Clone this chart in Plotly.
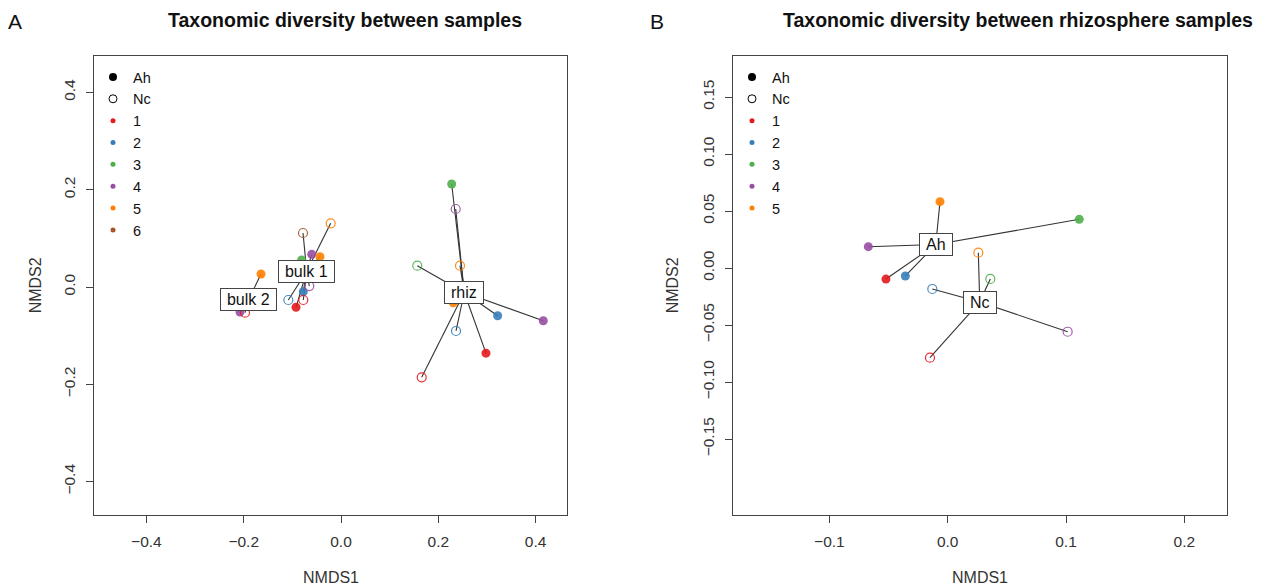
import plotly.graph_objects as go

# ---------------- data ----------------
SET1 = {1: "#E41A1C", 2: "#377EB8", 3: "#4DAF4A", 4: "#984EA3", 5: "#FF7F00", 6: "#A65628"}

# Panel A: all samples
a_group = ["rhiz"] * 10 + ["bulk 1"] * 10 + ["bulk 2"] * 3
a_plant = ["Ah", "Ah", "Ah", "Ah", "Ah", "Nc", "Nc", "Nc", "Nc", "Nc",
           "Nc", "Nc", "Ah", "Ah", "Ah", "Nc", "Ah", "Nc", "Nc", "Ah",
           "Ah", "Ah", "Nc"]
a_rep = [1, 2, 3, 4, 5, 1, 2, 3, 4, 5,
         5, 6, 3, 4, 5, 4, 2, 2, 1, 1,
         5, 4, 1]
a_x = [0.298, 0.322, 0.2275, 0.4158, 0.2308, 0.1659, 0.2364, 0.1568, 0.2358, 0.2446,
       -0.0212, -0.0781, -0.0808, -0.0602, -0.0432, -0.0652, -0.0775, -0.1083, -0.0775, -0.0925,
       -0.1644, -0.2076, -0.1973]
a_y = [-0.136, -0.059, 0.2117, -0.0693, -0.0323, -0.1856, -0.0904, 0.0438, 0.1603, 0.0438,
       0.1309, 0.111, 0.0555, 0.0672, 0.0623, 0.002, -0.0097, -0.0267, -0.0267, -0.0417,
       0.0267, -0.0514, -0.0528]

# Panel B: rhizosphere samples
b_group = ["Ah"] * 5 + ["Nc"] * 5
b_rep = [1, 2, 3, 4, 5, 1, 2, 3, 4, 5]
b_x = [-0.0522, -0.0358, 0.1112, -0.0671, -0.0065, -0.015, -0.013, 0.036, 0.1014, 0.0259]
b_y = [-0.0097, -0.0070, 0.0427, 0.0187, 0.0582, -0.0787, -0.0184, -0.0096, -0.0559, 0.0134]

a_xticks = [-0.4, -0.2, 0.0, 0.2, 0.4]
a_yticks = [-0.4, -0.2, 0.0, 0.2, 0.4]
b_xticks = [-0.1, 0.0, 0.1, 0.2]
b_yticks = [-0.15, -0.10, -0.05, 0.0, 0.05, 0.10, 0.15]

a_legend_reps = [1, 2, 3, 4, 5, 6]
b_legend_reps = [1, 2, 3, 4, 5]

# ---------------- layout geometry ----------------
W, H = 1265, 587
OFF = 8.0  # page body margin in the browser
FONT = "Liberation Sans, Arial, sans-serif"
TOP, BOT = 55.7, 515.0
A_L, A_R = 94.0, 567.0
B_L, B_R = 732.7, 1226.7


def px(v):
    return (v - OFF) / W


def py(v):
    return 1 - (v - OFF) / H


CHAR_W = {"A": 10.7, "h": 8.9, "N": 11.6, "c": 8.0, "b": 8.9, "u": 8.9, "l": 3.6,
          "k": 8.0, " ": 4.4, "1": 8.9, "2": 8.9, "r": 5.3, "i": 3.6, "z": 8.0}


def text_w(s, size=16):
    return sum(CHAR_W.get(ch, 8.9) for ch in s) * size / 16.0


fig = go.Figure()


def add_panel(xs, ys, groups, reps, plants, xa, ya):
    cents = {}
    for g in dict.fromkeys(groups):
        idx = [i for i, gg in enumerate(groups) if gg == g]
        cx = sum(xs[i] for i in idx) / len(idx)
        cy = sum(ys[i] for i in idx) / len(idx)
        cents[g] = (cx, cy)
    lx, ly = [], []
    for i, g in enumerate(groups):
        cx, cy = cents[g]
        lx += [cx, xs[i], None]
        ly += [cy, ys[i], None]
    fig.add_trace(go.Scatter(x=lx, y=ly, mode="lines", xaxis=xa, yaxis=ya,
                             line=dict(color="#333333", width=1.1),
                             showlegend=False, hoverinfo="skip"))
    filled = [i for i in range(len(xs)) if plants[i] == "Ah"]
    opened = [i for i in range(len(xs)) if plants[i] == "Nc"]
    fig.add_trace(go.Scatter(x=[xs[i] for i in filled], y=[ys[i] for i in filled],
                             mode="markers", xaxis=xa, yaxis=ya, showlegend=False,
                             marker=dict(size=9, symbol="circle",
                                         color=[SET1[reps[i]] for i in filled],
                                         opacity=0.9, line=dict(width=0))))
    fig.add_trace(go.Scatter(x=[xs[i] for i in opened], y=[ys[i] for i in opened],
                             mode="markers", xaxis=xa, yaxis=ya, showlegend=False,
                             marker=dict(size=9, symbol="circle-open",
                                         color=[SET1[reps[i]] for i in opened],
                                         opacity=0.9, line=dict(width=1.2))))
    for g, (cx, cy) in cents.items():
        fig.add_annotation(x=cx, y=cy, xref=xa, yref=ya, text=g, showarrow=False,
                           xanchor="center", yanchor="middle",
                           font=dict(family=FONT, size=16, color="#111111"),
                           bgcolor="white", bordercolor="#444444", borderwidth=1,
                           borderpad=1, width=text_w(g) + 10, height=19)


add_panel(a_x, a_y, a_group, a_rep, a_plant, "x", "y")
add_panel(b_x, b_y, b_group, b_rep, b_group, "x2", "y2")


def add_legend(reps, legend_name):
    fig.add_trace(go.Scatter(x=[None], y=[None], mode="markers", name="Ah", legend=legend_name,
                             marker=dict(size=8, symbol="circle", color="black")))
    fig.add_trace(go.Scatter(x=[None], y=[None], mode="markers", name="Nc", legend=legend_name,
                             marker=dict(size=8, symbol="circle-open", color="black",
                                         line=dict(width=1))))
    for r in reps:
        fig.add_trace(go.Scatter(x=[None], y=[None], mode="markers", name=str(r),
                                 legend=legend_name,
                                 marker=dict(size=5, symbol="circle", color=SET1[r])))


add_legend(a_legend_reps, "legend")
add_legend(b_legend_reps, "legend2")

axis_common = dict(showline=True, linecolor="#444444", linewidth=1, mirror=True,
                   ticks="outside", ticklen=7, tickcolor="#444444", showgrid=False,
                   zeroline=False, tickfont=dict(family=FONT, size=15.5, color="#333333"),
                   ticklabelstandoff=5)

A_XR = [(A_L - 341.0) / 486.5, (A_R - 341.0) / 486.5]
A_YR = [(287.0 - BOT) / 486.5, (287.0 - TOP) / 486.5]
B_XR = [(B_L - 947.7) / 1183.0, (B_R - 947.7) / 1183.0]
B_YR = [(268.0 - BOT) / 1140.0, (268.0 - TOP) / 1140.0]

leg_font = dict(family=FONT, size=14.5, color="#111111")
fig.update_layout(
    width=W, height=H, margin=dict(l=0, r=0, t=0, b=0),
    paper_bgcolor="white", plot_bgcolor="white",
    font=dict(family=FONT, color="#222222"),
    xaxis=dict(domain=[px(A_L), px(A_R)], range=A_XR, tickvals=a_xticks,
               tickformat=".1f", anchor="y", **axis_common),
    yaxis=dict(domain=[py(BOT), py(TOP)], range=A_YR, tickvals=a_yticks,
               tickformat=".1f", tickangle=-90, anchor="x", **axis_common),
    xaxis2=dict(domain=[px(B_L), px(B_R)], range=B_XR, tickvals=b_xticks,
                tickformat=".1f", anchor="y2", **axis_common),
    yaxis2=dict(domain=[py(BOT), py(TOP)], range=B_YR, tickvals=b_yticks,
                tickformat=".2f", tickangle=-90, anchor="x2", **axis_common),
    legend=dict(x=px(93), y=py(61), xanchor="left", yanchor="top",
                bgcolor="rgba(0,0,0,0)", font=leg_font, tracegroupgap=0, itemsizing="trace"),
    legend2=dict(x=px(732), y=py(61), xanchor="left", yanchor="top",
                 bgcolor="rgba(0,0,0,0)", font=leg_font, tracegroupgap=0, itemsizing="trace"),
    showlegend=True,
)

# titles, panel letters and axis titles
for txt, xc in [("Taxonomic diversity between samples", 344.5),
                ("Taxonomic diversity between rhizosphere samples", 1018.0)]:
    fig.add_annotation(x=px(xc), y=py(20), xref="paper", yref="paper", text="<b>" + txt + "</b>",
                       xanchor="center", yanchor="middle", showarrow=False,
                       font=dict(family=FONT, size=19.5, color="#111111"))
for txt, xc in [("A", 15.0), ("B", 657.0)]:
    fig.add_annotation(x=px(xc), y=py(21), xref="paper", yref="paper", text=txt,
                       xanchor="center", yanchor="middle", showarrow=False,
                       font=dict(family=FONT, size=21, color="#111111"))
for xc in [(A_L + A_R) / 2, (B_L + B_R) / 2]:
    fig.add_annotation(x=px(xc), y=py(577), xref="paper", yref="paper", text="NMDS1",
                       xanchor="center", yanchor="middle", showarrow=False,
                       font=dict(family=FONT, size=16, color="#333333"))
for xc in [35.0, 672.0]:
    fig.add_annotation(x=px(xc), y=py((TOP + BOT) / 2), xref="paper", yref="paper", text="NMDS2",
                       xanchor="center", yanchor="middle", textangle=-90, showarrow=False,
                       font=dict(family=FONT, size=16, color="#333333"))

fig.write_html("out.html")
